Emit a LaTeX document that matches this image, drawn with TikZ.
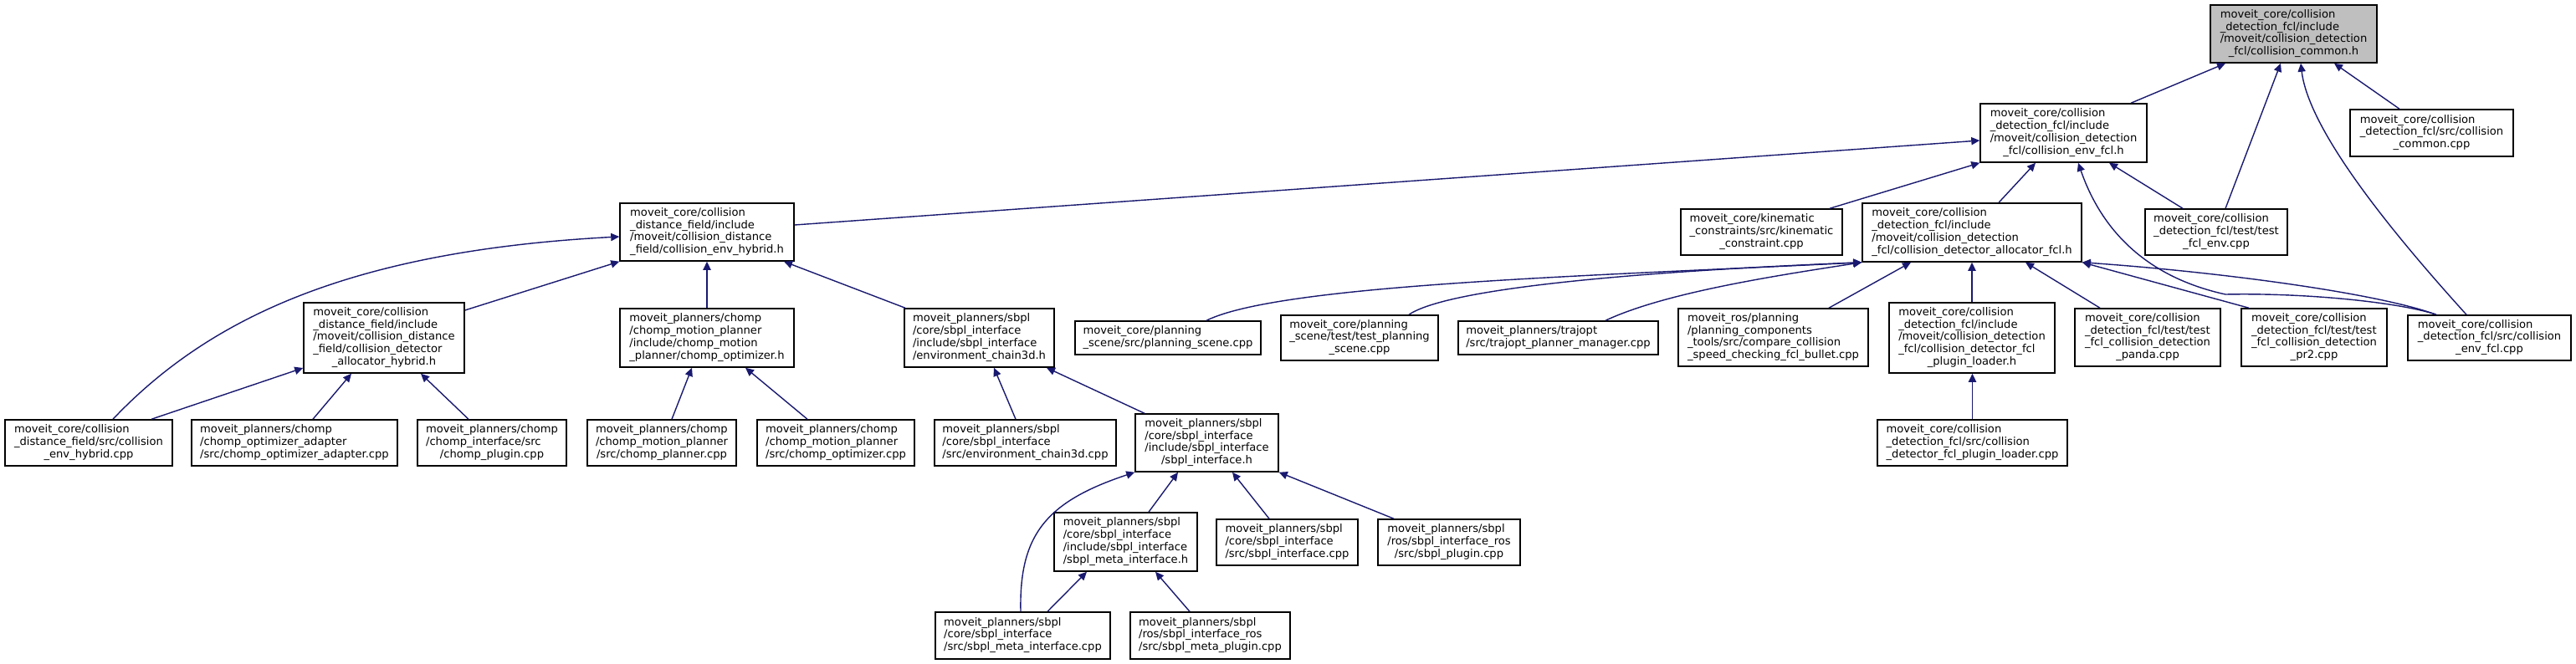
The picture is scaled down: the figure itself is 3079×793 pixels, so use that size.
\documentclass[tikz,border=0pt]{standalone}
\usepackage{fontspec}
\setmainfont{DejaVu Sans}
\usepackage{tikz}
\usetikzlibrary{arrows.meta}
\definecolor{EdgeBlue}{HTML}{191970}
\definecolor{RootGray}{HTML}{BFBFBF}

% label: left lines, last line centred
\newcommand{\flabel}[2]{\begin{tabular}{@{}l@{}}#1\\\multicolumn{1}{@{}c@{}}{#2}\end{tabular}}
% box from its pixel corners (x1,y1)-(x2,y2), then the name
\newcommand{\filenode}[6][]{\node[filebox,#1,minimum width={(#4-#2)*0.5pt},minimum height={(#5-#3)*0.5pt}] (#6) at ({(#2+#4)/2},{(#3+#5)/2})}

\begin{document}
\begin{tikzpicture}[x=0.5pt,y=-0.5pt,
  filebox/.style={draw=black,line width=0.75pt,fill=white,inner sep=1pt,
    font=\fontsize{6.55pt}{7.4pt}\selectfont},
  dep/.style={draw=EdgeBlue,line width=0.7pt,-{Triangle[length=5pt,width=4.6pt]}}]
  \useasboundingbox[fill=white] (0,0) rectangle (3079,793);

  % top
  \filenode[fill=RootGray]{2642}{6}{2841}{75}{root}{\flabel{moveit\_core/collision\\\_detection\_fcl/include\\/moveit/collision\_detection}{\_fcl/collision\_common.h}};
  \filenode{2367}{124}{2566}{194}{envfclh}{\flabel{moveit\_core/collision\\\_detection\_fcl/include\\/moveit/collision\_detection}{\_fcl/collision\_env\_fcl.h}};
  \filenode{2809}{131}{3004}{187}{commoncpp}{\flabel{moveit\_core/collision\\\_detection\_fcl/src/collision}{\_common.cpp}};
  \filenode{2564}{250}{2734}{305}{testfclenv}{\flabel{moveit\_core/collision\\\_detection\_fcl/test/test}{\_fcl\_env.cpp}};
  \filenode{2226}{243}{2488}{313}{allocfclh}{\flabel{moveit\_core/collision\\\_detection\_fcl/include\\/moveit/collision\_detection}{\_fcl/collision\_detector\_allocator\_fcl.h}};
  \filenode{2009}{250}{2202}{305}{kinematic}{\flabel{moveit\_core/kinematic\\\_constraints/src/kinematic}{\_constraint.cpp}};
  \filenode{741}{243}{949}{312}{envhybridh}{\flabel{moveit\_core/collision\\\_distance\_field/include\\/moveit/collision\_distance}{\_field/collision\_env\_hybrid.h}};

  % middle
  \filenode{741}{369}{949}{439}{chompopth}{\flabel{moveit\_planners/chomp\\/chomp\_motion\_planner\\/include/chomp\_motion}{\_planner/chomp\_optimizer.h}};
  \filenode{1081}{369}{1260}{439}{chainh}{\flabel{moveit\_planners/sbpl\\/core/sbpl\_interface\\/include/sbpl\_interface}{/environment\_chain3d.h}};
  \filenode{1285}{384}{1507}{424}{planscene}{\flabel{moveit\_core/planning}{\_scene/src/planning\_scene.cpp}};
  \filenode{1531}{377}{1719}{431}{testplanscene}{\flabel{moveit\_core/planning\\\_scene/test/test\_planning}{\_scene.cpp}};
  \filenode{1743}{384}{1982}{424}{trajopt}{\flabel{moveit\_planners/trajopt}{/src/trajopt\_planner\_manager.cpp}};
  \filenode{2006}{369}{2233}{438}{comparecoll}{\flabel{moveit\_ros/planning\\/planning\_components\\\_tools/src/compare\_collision}{\_speed\_checking\_fcl\_bullet.cpp}};
  \filenode{2258}{362}{2456}{446}{loaderh}{\flabel{moveit\_core/collision\\\_detection\_fcl/include\\/moveit/collision\_detection\\\_fcl/collision\_detector\_fcl}{\_plugin\_loader.h}};
  \filenode{2480}{369}{2654}{438}{panda}{\flabel{moveit\_core/collision\\\_detection\_fcl/test/test\\\_fcl\_collision\_detection}{\_panda.cpp}};
  \filenode{2679}{369}{2853}{438}{prtwo}{\flabel{moveit\_core/collision\\\_detection\_fcl/test/test\\\_fcl\_collision\_detection}{\_pr2.cpp}};
  \filenode{2878}{377}{3073}{431}{envfclcpp}{\flabel{moveit\_core/collision\\\_detection\_fcl/src/collision}{\_env\_fcl.cpp}};
  \filenode{363}{362}{555}{446}{allochybrid}{\flabel{moveit\_core/collision\\\_distance\_field/include\\/moveit/collision\_distance\\\_field/collision\_detector}{\_allocator\_hybrid.h}};

  % lower rows
  \filenode{6}{502}{206}{557}{envhybridcpp}{\flabel{moveit\_core/collision\\\_distance\_field/src/collision}{\_env\_hybrid.cpp}};
  \filenode{229}{502}{475}{557}{chompadapter}{\flabel{moveit\_planners/chomp\\/chomp\_optimizer\_adapter}{/src/chomp\_optimizer\_adapter.cpp}};
  \filenode{499}{502}{677}{557}{chompplugin}{\flabel{moveit\_planners/chomp\\/chomp\_interface/src}{/chomp\_plugin.cpp}};
  \filenode{702}{502}{880}{557}{chompplanner}{\flabel{moveit\_planners/chomp\\/chomp\_motion\_planner}{/src/chomp\_planner.cpp}};
  \filenode{905}{502}{1093}{557}{chompoptcpp}{\flabel{moveit\_planners/chomp\\/chomp\_motion\_planner}{/src/chomp\_optimizer.cpp}};
  \filenode{1117}{502}{1334}{557}{chaincpp}{\flabel{moveit\_planners/sbpl\\/core/sbpl\_interface}{/src/environment\_chain3d.cpp}};
  \filenode{1357}{495}{1528}{564}{sbplh}{\flabel{moveit\_planners/sbpl\\/core/sbpl\_interface\\/include/sbpl\_interface}{/sbpl\_interface.h}};
  \filenode{2244}{502}{2471}{557}{loadercpp}{\flabel{moveit\_core/collision\\\_detection\_fcl/src/collision}{\_detector\_fcl\_plugin\_loader.cpp}};
  \filenode{1260}{613}{1431}{683}{sbplmetah}{\flabel{moveit\_planners/sbpl\\/core/sbpl\_interface\\/include/sbpl\_interface}{/sbpl\_meta\_interface.h}};
  \filenode{1454}{621}{1623}{676}{sbplcpp}{\flabel{moveit\_planners/sbpl\\/core/sbpl\_interface}{/src/sbpl\_interface.cpp}};
  \filenode{1647}{621}{1817}{676}{sbplplugin}{\flabel{moveit\_planners/sbpl\\/ros/sbpl\_interface\_ros}{/src/sbpl\_plugin.cpp}};
  \filenode{1118}{732}{1327}{788}{sbplmetacpp}{\flabel{moveit\_planners/sbpl\\/core/sbpl\_interface}{/src/sbpl\_meta\_interface.cpp}};
  \filenode{1351}{732}{1542}{788}{sbplmetaplugin}{\flabel{moveit\_planners/sbpl\\/ros/sbpl\_interface\_ros}{/src/sbpl\_meta\_plugin.cpp}};

  % includes, arrow at the included file
  \draw[dep] (2547,0 |- envfclh.north) -- (2660,0 |- root.south);
  \draw[dep] (2868,0 |- commoncpp.north) -- (2790,0 |- root.south);
  \draw[dep] (2660,0 |- testfclenv.north) -- (2726,0 |- root.south);
  \draw[dep] (2948,0 |- envfclcpp.north) .. controls (2870,290) and (2760,160) .. (2750,0 |- root.south);
  \draw[dep] (envhybridh.east |- 0,269) -- (envfclh.west |- 0,168);
  \draw[dep] (2187,0 |- kinematic.north) -- (envfclh.south west);
  \draw[dep] (2389,0 |- allocfclh.north) -- (2433,0 |- envfclh.south);
  \draw[dep] (2609,0 |- testfclenv.north) -- (2521,0 |- envfclh.south);
  \draw[dep] (2912,0 |- envfclcpp.north) .. controls (2870,362) and (2760,350) .. (2660,352)
    .. controls (2560,330) and (2510,270) .. (2484,0 |- envfclh.south);

  \draw[dep] (allochybrid.east |- 0,371) -- (envhybridh.south west);
  \draw[dep] (chompopth.north) -- (envhybridh.south);
  \draw[dep] (1082,0 |- chainh.north) -- (937,0 |- envhybridh.south);
  \draw[dep] (135,0 |- envhybridcpp.north) .. controls (250,380) and (420,300) .. (envhybridh.west |- 0,283);
  \draw[dep] (181,0 |- envhybridcpp.north) -- (allochybrid.west |- 0,440);
  \draw[dep] (374,0 |- chompadapter.north) -- (420,0 |- allochybrid.south);
  \draw[dep] (560,0 |- chompplugin.north) -- (503,0 |- allochybrid.south);
  \draw[dep] (803,0 |- chompplanner.north) -- (827,0 |- chompopth.south);
  \draw[dep] (965,0 |- chompoptcpp.north) -- (891,0 |- chompopth.south);
  \draw[dep] (1214,0 |- chaincpp.north) -- (1188,0 |- chainh.south);
  \draw[dep] (1368,0 |- sbplh.north) -- (1251,0 |- chainh.south);

  \draw[dep] (1373,0 |- sbplmetah.north) -- (1408,0 |- sbplh.south);
  \draw[dep] (1517,0 |- sbplcpp.north) -- (1473,0 |- sbplh.south);
  \draw[dep] (1666,0 |- sbplplugin.north) -- (sbplh.south east);
  \draw[dep] (1220,0 |- sbplmetacpp.north) .. controls (1218,640) and (1250,600) .. (sbplh.south west);
  \draw[dep] (1252,0 |- sbplmetacpp.north) -- (1299,0 |- sbplmetah.south);
  \draw[dep] (1422,0 |- sbplmetaplugin.north) -- (1381,0 |- sbplmetah.south);

  \draw[dep] (1442,0 |- planscene.north) .. controls (1530,340) and (1900,330) .. (allocfclh.south west);
  \draw[dep] (1684,0 |- testplanscene.north) .. controls (1730,345) and (1950,325) .. (allocfclh.south west);
  \draw[dep] (1919,0 |- trajopt.north) .. controls (1990,350) and (2120,330) .. (allocfclh.south west);
  \draw[dep] (2186,0 |- comparecoll.north) -- (2284,0 |- allocfclh.south);
  \draw[dep] (loaderh.north) -- (loaderh.north |- allocfclh.south);
  \draw[dep] (2510,0 |- panda.north) -- (2421,0 |- allocfclh.south);
  \draw[dep] (2688,0 |- prtwo.north) -- (allocfclh.south east);
  \draw[dep] (2912,0 |- envfclcpp.north) .. controls (2840,350) and (2650,325) .. (allocfclh.south east);
  \draw[dep] (loadercpp.north) -- (loadercpp.north |- loaderh.south);
\end{tikzpicture}
\end{document}
